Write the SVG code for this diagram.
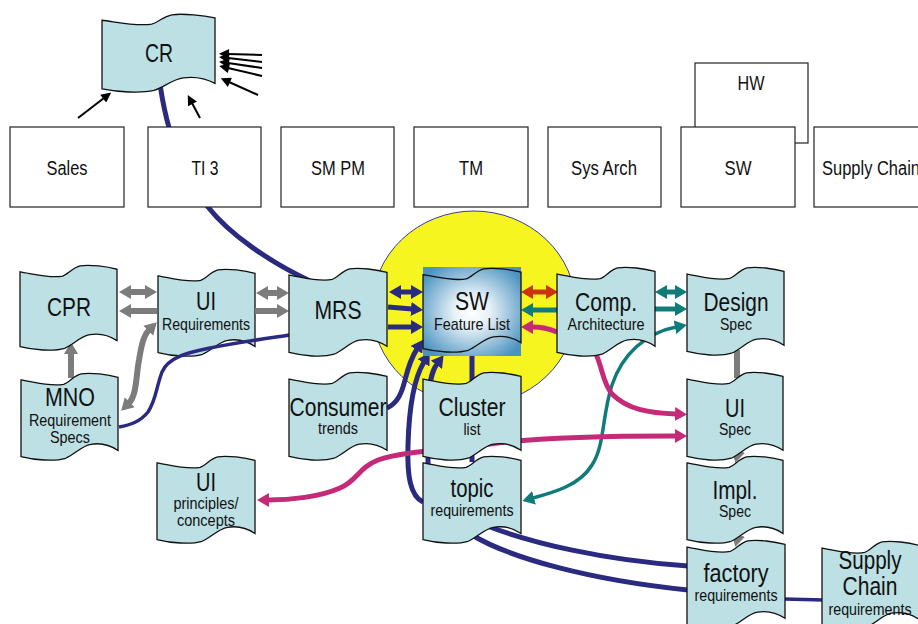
<svg xmlns="http://www.w3.org/2000/svg" width="918" height="624" viewBox="0 0 918 624">
<style>
.doc{fill:#bce0e3;stroke:#111;stroke-width:1.3}
.box{fill:#fff;stroke:#222;stroke-width:1.2}
text{font-family:"Liberation Sans Narrow","Liberation Sans",Arial,sans-serif;text-anchor:middle;fill:#111}
.big{font-size:25px}
.sub{font-size:17px}
.lbl{font-size:20px}
.c{fill:none;stroke-linecap:butt}
.gray{stroke:#7c7c7c;stroke-width:6}
.navy{stroke:#2a2a80;stroke-width:5}
.navyT{stroke:#2a2a80;stroke-width:3.5}
.red{stroke:#cc3311;stroke-width:5}
.teal{stroke:#0f7c7a;stroke-width:5}
.tealT{stroke:#0f7c7a;stroke-width:3.5}
.mag{stroke:#c42a78;stroke-width:5}
.blk{stroke:#000;stroke-width:2}
</style>
<defs>
<path id="doc" vector-effect="non-scaling-stroke" d="M0,8 C12,10 30,16 44,13 C50,11 54,3 62,1 C72,-1 90,2 100,5 L100,89 C92,83 82,80 72,82 C62,84 56,93 46,98 C34,102 14,100 0,96 Z"/>
<radialGradient id="swg" cx="0.5" cy="0.5" r="0.62">
<stop offset="0" stop-color="#ffffff"/>
<stop offset="0.3" stop-color="#e6f1f7"/>
<stop offset="1" stop-color="#4a92c0"/>
</radialGradient>
<marker id="hGray" viewBox="0 0 12 14" refX="1" refY="7" markerWidth="12" markerHeight="15" markerUnits="userSpaceOnUse" orient="auto-start-reverse"><path d="M0,0 L12,7 L0,14 z" fill="#7c7c7c"/></marker>
<marker id="hNavy" viewBox="0 0 12 14" refX="1" refY="7" markerWidth="12" markerHeight="14" markerUnits="userSpaceOnUse" orient="auto-start-reverse"><path d="M0,0 L12,7 L0,14 z" fill="#2a2a80"/></marker>
<marker id="hRed" viewBox="0 0 12 14" refX="1" refY="7" markerWidth="12" markerHeight="14" markerUnits="userSpaceOnUse" orient="auto-start-reverse"><path d="M0,0 L12,7 L0,14 z" fill="#cc3311"/></marker>
<marker id="hTeal" viewBox="0 0 12 14" refX="1" refY="7" markerWidth="12" markerHeight="14" markerUnits="userSpaceOnUse" orient="auto-start-reverse"><path d="M0,0 L12,7 L0,14 z" fill="#0f7c7a"/></marker>
<marker id="hMag" viewBox="0 0 12 14" refX="1" refY="7" markerWidth="12" markerHeight="14" markerUnits="userSpaceOnUse" orient="auto-start-reverse"><path d="M0,0 L12,7 L0,14 z" fill="#c42a78"/></marker>
<marker id="hBlk" viewBox="0 0 10 10" refX="1" refY="5" markerWidth="11" markerHeight="10" markerUnits="userSpaceOnUse" orient="auto-start-reverse"><path d="M0,0 L10,5 L0,10 z" fill="#000"/></marker>
</defs>

<ellipse id="focus" cx="474" cy="308" rx="102" ry="97" fill="#f6f51f" stroke="#3b3ba0" stroke-width="1"/>

<g id="n-uireq"><use href="#doc" class="doc" transform="translate(158,269) scale(0.97,0.87)"/><text class="big" x="206" y="310" textLength="20" lengthAdjust="spacingAndGlyphs">UI</text><text class="sub" x="206" y="330" textLength="88" lengthAdjust="spacingAndGlyphs">Requirements</text></g>

<g id="connectors">
<path class="c blk" d="M78,118 L104,98" marker-end="url(#hBlk)"/>
<path class="c blk" d="M200,118 L192,103" marker-end="url(#hBlk)"/>
<path class="c blk" d="M262,55 L228,54" marker-end="url(#hBlk)"/>
<path class="c blk" d="M262,62 L228,58" marker-end="url(#hBlk)"/>
<path class="c blk" d="M262,68 L228,63" marker-end="url(#hBlk)"/>
<path class="c blk" d="M262,76 L228,68" marker-end="url(#hBlk)"/>
<path class="c blk" d="M258,95 L229,82" marker-end="url(#hBlk)"/>
<path class="c navy" d="M160,84 C163,105 170,140 185,170 C193,185 200,197 208,207 C230,235 270,262 310,281"/>
<path class="c navyT" d="M290,335 C270,338 240,342 210,348 C185,353 168,358 162,372 C156,388 156,400 148,412 C140,422 130,425 119,427"/>
<path class="c gray" d="M130,292 L146,292" marker-start="url(#hGray)" marker-end="url(#hGray)"/>
<path class="c gray" d="M157,311 L130,311" marker-end="url(#hGray)"/>
<path class="c gray" d="M267,293 L278,293" marker-start="url(#hGray)" marker-end="url(#hGray)"/>
<path class="c gray" d="M255,311 L278,311" marker-end="url(#hGray)"/>
<path class="c gray" d="M71,378 L71,353" marker-end="url(#hGray)"/>
<path class="c gray" d="M129,403 C137,395 136,375 139,360 C141,348 143,336 149,330" marker-start="url(#hGray)" marker-end="url(#hGray)"/>
<path class="c gray" d="M737,350 L737,378"/>
<path class="c gray" d="M741,440 L738,452" marker-end="url(#hGray)"/>
<path class="c gray" d="M741,524 L738,536" marker-end="url(#hGray)"/>
<path class="c navy" d="M400,292 L412,292" marker-start="url(#hNavy)" marker-end="url(#hNavy)"/>
<path class="c navy" d="M388,307 L412,309" marker-end="url(#hNavy)"/>
<path class="c navy" d="M388,327 L412,327" marker-end="url(#hNavy)"/>
<path class="c navy" d="M387,408 C398,403 402,392 405,380 C408,368 411,358 417,349" marker-end="url(#hNavy)"/>
<path class="c navy" d="M423,502 C410,496 407,475 408,445 C409,410 413,380 424,362" marker-end="url(#hNavy)"/>
<path class="c navy" d="M428,470 L428,405 C429,385 431,372 437,364" marker-end="url(#hNavy)"/>
<path class="c navy" d="M472,352 L472,462"/>
<path class="c navy" d="M490,527 C530,542 600,560 688,566"/>
<path class="c navy" d="M472,535 C510,558 590,580 688,590"/>
<path class="c navyT" d="M784,599 L824,600"/>
<path class="c red" d="M532,292 L547,292" marker-start="url(#hRed)" marker-end="url(#hRed)"/>
<path class="c teal" d="M558,310 L532,310" marker-end="url(#hTeal)"/>
<path class="c teal" d="M666,292 L676,292" marker-start="url(#hTeal)" marker-end="url(#hTeal)"/>
<path class="c teal" d="M655,309 L676,309" marker-end="url(#hTeal)"/>
<path class="c tealT" d="M533,498 C555,492 580,485 592,465 C605,445 602,415 612,385 C622,355 645,333 676,327" marker-start="url(#hTeal)" marker-end="url(#hTeal)"/>
<path class="c mag" d="M557,332 C548,328 540,327 532,327" marker-end="url(#hMag)"/>
<path class="c mag" d="M595,352 C603,368 602,382 612,394 C628,410 650,413 676,414" marker-end="url(#hMag)"/>
<path class="c mag" d="M676,436 C620,436 540,437 490,444 C440,450 400,452 378,460 C358,468 358,480 340,488 C320,497 290,500 268,500" marker-start="url(#hMag)" marker-end="url(#hMag)"/>
</g>

<g id="n-sales"><rect class="box" x="10" y="127" width="114" height="80"/><text class="lbl" x="67" y="175" textLength="41" lengthAdjust="spacingAndGlyphs">Sales</text></g>
<g id="n-ti3"><rect class="box" x="148" y="127" width="113" height="80"/><text class="lbl" x="205" y="175" textLength="27" lengthAdjust="spacingAndGlyphs">TI 3</text></g>
<g id="n-smpm"><rect class="box" x="281" y="127" width="113" height="80"/><text class="lbl" x="338" y="175" textLength="54" lengthAdjust="spacingAndGlyphs">SM PM</text></g>
<g id="n-tm"><rect class="box" x="414" y="127" width="114" height="80"/><text class="lbl" x="471" y="175" textLength="24" lengthAdjust="spacingAndGlyphs">TM</text></g>
<g id="n-sysarch"><rect class="box" x="548" y="127" width="113" height="80"/><text class="lbl" x="604" y="175" textLength="66" lengthAdjust="spacingAndGlyphs">Sys Arch</text></g>
<g id="n-hw"><rect class="box" x="695" y="63" width="113" height="80"/><text class="lbl" x="751" y="90" textLength="27" lengthAdjust="spacingAndGlyphs">HW</text></g>
<g id="n-sw"><rect class="box" x="681" y="127" width="114" height="80"/><text class="lbl" x="738" y="175" textLength="27" lengthAdjust="spacingAndGlyphs">SW</text></g>
<g id="n-supplychain"><rect class="box" x="814" y="127" width="114" height="80"/><text class="lbl" x="871" y="175" textLength="98" lengthAdjust="spacingAndGlyphs">Supply Chain</text></g>

<g id="n-cr"><use href="#doc" class="doc" transform="translate(102,14) scale(1.13,0.78)"/><text class="big" x="159" y="62" textLength="28" lengthAdjust="spacingAndGlyphs">CR</text></g>
<g id="n-cpr"><use href="#doc" class="doc" transform="translate(20,265) scale(0.97,0.85)"/><text class="big" x="69" y="316" textLength="44" lengthAdjust="spacingAndGlyphs">CPR</text></g>
<g id="n-mrs"><use href="#doc" class="doc" transform="translate(289,268) scale(0.98,0.88)"/><text class="big" x="338" y="319" textLength="47" lengthAdjust="spacingAndGlyphs">MRS</text></g>
<g id="n-swfl"><rect x="423" y="267" width="98" height="89" fill="url(#swg)"/><use href="#doc" class="doc" style="fill:none" transform="translate(423,268) scale(0.98,0.84)"/><text class="big" x="472" y="310" textLength="34" lengthAdjust="spacingAndGlyphs">SW</text><text class="sub" x="472" y="330" textLength="76" lengthAdjust="spacingAndGlyphs">Feature List</text></g>
<g id="n-comp"><use href="#doc" class="doc" transform="translate(557,267) scale(0.98,0.89)"/><text class="big" x="606" y="311" textLength="62" lengthAdjust="spacingAndGlyphs">Comp.</text><text class="sub" x="606" y="330" textLength="77" lengthAdjust="spacingAndGlyphs">Architecture</text></g>
<g id="n-design"><use href="#doc" class="doc" transform="translate(687,267) scale(0.97,0.88)"/><text class="big" x="736" y="311" textLength="65" lengthAdjust="spacingAndGlyphs">Design</text><text class="sub" x="736" y="330" textLength="32" lengthAdjust="spacingAndGlyphs">Spec</text></g>
<g id="n-mno"><use href="#doc" class="doc" transform="translate(21,373) scale(0.97,0.87)"/><text class="big" x="70" y="406" textLength="50" lengthAdjust="spacingAndGlyphs">MNO</text><text class="sub" x="70" y="426" textLength="82" lengthAdjust="spacingAndGlyphs">Requirement</text><text class="sub" x="70" y="443" textLength="40" lengthAdjust="spacingAndGlyphs">Specs</text></g>
<g id="n-consumer"><use href="#doc" class="doc" transform="translate(289,372) scale(0.98,0.88)"/><text class="big" x="338" y="416" textLength="97" lengthAdjust="spacingAndGlyphs">Consumer</text><text class="sub" x="338" y="434" textLength="40" lengthAdjust="spacingAndGlyphs">trends</text></g>
<g id="n-cluster"><use href="#doc" class="doc" transform="translate(423,372) scale(0.98,0.88)"/><text class="big" x="472" y="416" textLength="67" lengthAdjust="spacingAndGlyphs">Cluster</text><text class="sub" x="472" y="435" textLength="17" lengthAdjust="spacingAndGlyphs">list</text></g>
<g id="n-topic"><use href="#doc" class="doc" transform="translate(423,456) scale(0.98,0.87)"/><text class="big" x="472" y="497" textLength="43" lengthAdjust="spacingAndGlyphs">topic</text><text class="sub" x="472" y="516" textLength="83" lengthAdjust="spacingAndGlyphs">requirements</text></g>
<g id="n-uiprinc"><use href="#doc" class="doc" transform="translate(157,456) scale(0.98,0.87)"/><text class="big" x="206" y="491" textLength="20" lengthAdjust="spacingAndGlyphs">UI</text><text class="sub" x="206" y="509" textLength="65" lengthAdjust="spacingAndGlyphs">principles/</text><text class="sub" x="206" y="526" textLength="58" lengthAdjust="spacingAndGlyphs">concepts</text></g>
<g id="n-uispec"><use href="#doc" class="doc" transform="translate(687,372) scale(0.96,0.88)"/><text class="big" x="735" y="417" textLength="20" lengthAdjust="spacingAndGlyphs">UI</text><text class="sub" x="735" y="435" textLength="32" lengthAdjust="spacingAndGlyphs">Spec</text></g>
<g id="n-impl"><use href="#doc" class="doc" transform="translate(687,456) scale(0.96,0.87)"/><text class="big" x="735" y="499" textLength="45" lengthAdjust="spacingAndGlyphs">Impl.</text><text class="sub" x="735" y="517" textLength="32" lengthAdjust="spacingAndGlyphs">Spec</text></g>
<g id="n-factory"><use href="#doc" class="doc" transform="translate(687,540) scale(0.98,0.88)"/><text class="big" x="736" y="582" textLength="65" lengthAdjust="spacingAndGlyphs">factory</text><text class="sub" x="736" y="601" textLength="83" lengthAdjust="spacingAndGlyphs">requirements</text></g>
<g id="n-supplyreq"><use href="#doc" class="doc" transform="translate(822,541) scale(0.97,0.88)"/><text class="big" x="870" y="569" textLength="63" lengthAdjust="spacingAndGlyphs">Supply</text><text class="big" x="870" y="595" textLength="55" lengthAdjust="spacingAndGlyphs">Chain</text><text class="sub" x="870" y="615" textLength="83" lengthAdjust="spacingAndGlyphs">requirements</text></g>
</svg>
